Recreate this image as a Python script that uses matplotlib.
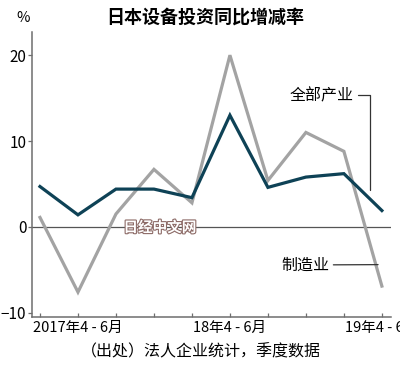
import matplotlib
matplotlib.use("Agg")
import matplotlib.pyplot as plt
import matplotlib.patheffects as pe

plt.rcParams['font.family'] = ['Noto Sans CJK SC', 'DejaVu Sans']

# 季度：2017年1-3月 ... 2019年4-6月
quarters = list(range(10))
tick_labels = ['', '2017年4 - 6月', '', '', '', '18年4 - 6月', '', '', '', '19年4 - 6月']
all_industry = [4.7, 1.4, 4.4, 4.4, 3.4, 13.0, 4.6, 5.8, 6.2, 1.9]
manufacturing = [1.1, -7.6, 1.5, 6.7, 2.8, 20.0, 5.4, 11.0, 8.8, -6.9]

dark = '#0e4256'
grey = '#a3a3a3'
axis_col = '#6e6e6e'

fig = plt.figure(figsize=(4, 3.68), dpi=100)
ax = fig.add_axes([0.08, 0.1386, 0.8975, 0.7744])

ax.axhline(0, color='#555555', lw=0.9, zorder=1)
ax.plot(quarters, manufacturing, color=grey, lw=2.3, zorder=2, solid_joinstyle='miter')
ax.plot(quarters, all_industry, color=dark, lw=2.3, zorder=3, solid_joinstyle='miter')

ax.set_xlim(-0.21, 9.24)
ax.set_ylim(-10.5, 22.7)
ax.set_yticks([-10, 0, 10, 20])
ax.set_xticks(quarters)
ax.set_xticklabels(tick_labels)

for s in ['top', 'right']:
    ax.spines[s].set_visible(False)
for s in ['left', 'bottom']:
    ax.spines[s].set_color(axis_col)
    ax.spines[s].set_linewidth(1.1)

ax.tick_params(axis='x', direction='in', length=3, width=0.9, color=axis_col,
               labelsize=10.5, pad=3)
ax.tick_params(axis='y', direction='out', length=3, width=0.9, color=axis_col,
               labelsize=11, pad=1)

# 标注
ax.annotate('全部产业', xy=(8.7, 4.3), xytext=(0.805, 0.7405),
            textcoords='figure fraction', ha='center', va='center', fontsize=11.5,
            arrowprops=dict(arrowstyle='-', color='#333333', lw=0.9,
                            connectionstyle='angle,angleA=0,angleB=90,rad=0',
                            shrinkA=1, shrinkB=0))
ax.annotate('制造业', xy=(8.9, -4.4), xytext=(0.763, 0.28),
            textcoords='figure fraction', ha='center', va='center', fontsize=11.5,
            arrowprops=dict(arrowstyle='-', color='#333333', lw=0.9,
                            shrinkA=1, shrinkB=0))

# 水印
fig.text(0.40, 0.383, '日经中文网', ha='center', va='center', fontsize=10.5,
         fontweight='bold', color='white', zorder=5,
         path_effects=[pe.withStroke(linewidth=1.6, foreground='#8c6a66')])

fig.text(0.057, 0.951, '%', ha='center', va='center', fontsize=10.5)
fig.text(0.512, 0.953, '日本设备投资同比增减率', ha='center', va='center',
         fontsize=13, fontweight='bold')
fig.text(0.502, 0.043, '（出处）法人企业统计，季度数据', ha='center', va='center',
         fontsize=11.5)

fig.savefig('out.png', dpi=100)
